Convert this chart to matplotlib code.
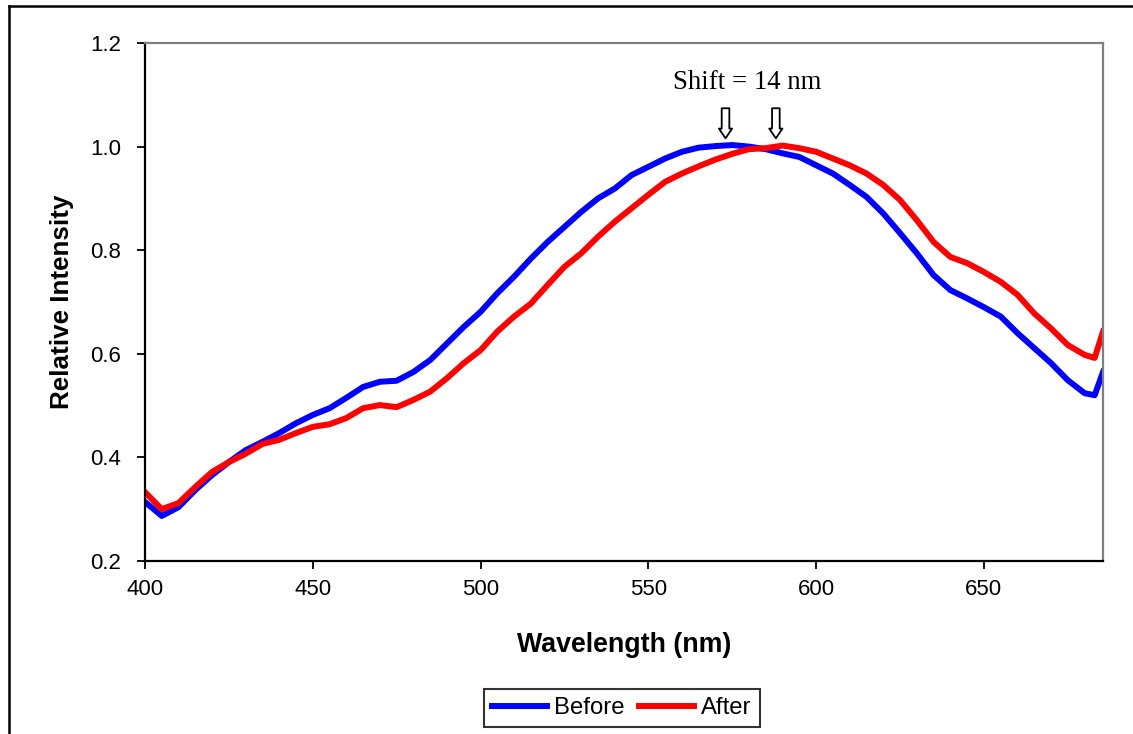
import matplotlib
matplotlib.use("Agg")
import matplotlib.pyplot as plt
from matplotlib.lines import Line2D

plt.rcParams['font.family'] = ['Liberation Sans', 'DejaVu Sans']

wavelength = [400, 405, 410, 415, 420, 425, 430, 435, 440, 445,
              450, 455, 460, 465, 470, 475, 480, 485, 490, 495,
              500, 505, 510, 515, 520, 525, 530, 535, 540, 545,
              550, 555, 560, 565, 570, 575, 580, 585, 590, 595,
              600, 605, 610, 615, 620, 625, 630, 635, 640, 645,
              650, 655, 660, 665, 670, 675, 680, 683, 685.5]

before = [0.314, 0.287, 0.304, 0.337, 0.366, 0.391, 0.414, 0.430, 0.447, 0.466,
          0.482, 0.495, 0.515, 0.536, 0.546, 0.548, 0.565, 0.588, 0.620, 0.652,
          0.681, 0.717, 0.749, 0.784, 0.816, 0.845, 0.874, 0.900, 0.919, 0.945,
          0.961, 0.977, 0.990, 0.998, 1.001, 1.003, 1.000, 0.995, 0.987, 0.980,
          0.964, 0.948, 0.926, 0.903, 0.871, 0.833, 0.794, 0.752, 0.723, 0.707,
          0.690, 0.672, 0.640, 0.611, 0.582, 0.549, 0.524, 0.520, 0.565]

after = [0.333, 0.300, 0.312, 0.343, 0.372, 0.391, 0.407, 0.426, 0.434, 0.447,
         0.459, 0.464, 0.476, 0.495, 0.501, 0.497, 0.511, 0.527, 0.553, 0.582,
         0.607, 0.643, 0.672, 0.697, 0.733, 0.768, 0.794, 0.826, 0.855, 0.881,
         0.907, 0.932, 0.948, 0.962, 0.975, 0.986, 0.995, 0.997, 1.002, 0.997,
         0.990, 0.977, 0.964, 0.948, 0.926, 0.897, 0.858, 0.816, 0.787, 0.775,
         0.758, 0.739, 0.714, 0.678, 0.649, 0.617, 0.598, 0.592, 0.643]

peaks = [573, 588]
shift_text = "Shift = 14 nm"

fig = plt.figure(figsize=(11.33, 7.34), dpi=100)
ax = fig.add_axes([145 / 1133, 1 - 561 / 734, 957.7 / 1133, 518 / 734])

ax.plot(wavelength, before, color='#0000ff', lw=4.3, label='Before', solid_joinstyle='round')
ax.plot(wavelength, after, color='#ff0000', lw=4.3, label='After', solid_joinstyle='round')

ax.set_xlim(400, 685.4)
ax.set_ylim(0.2, 1.2)
ax.set_xticks([400, 450, 500, 550, 600, 650])
ax.set_yticks([0.2, 0.4, 0.6, 0.8, 1.0, 1.2])
ax.set_yticklabels(['0.2', '0.4', '0.6', '0.8', '1.0', '1.2'])
ax.tick_params(axis='both', direction='out', length=6, width=1.3, labelsize=16)
ax.tick_params(axis='y', pad=11)
ax.tick_params(axis='x', pad=7)

for s in ['left', 'bottom']:
    ax.spines[s].set_color('black')
    ax.spines[s].set_linewidth(1.6)
for s in ['top', 'right']:
    ax.spines[s].set_color('#808080')
    ax.spines[s].set_linewidth(1.6)

ax.set_xlabel('Wavelength (nm)', fontsize=19.3, fontweight='bold', va='center')
ax.xaxis.set_label_coords(0.5, -0.162)
ax.set_ylabel('Relative Intensity', fontsize=18.7, fontweight='bold', va='center')
ax.yaxis.set_label_coords(-0.087, 0.5)

ax.text(579.4, 1.124, shift_text, family=['Liberation Serif', 'DejaVu Serif'],
        fontsize=19.3, ha='center', va='center')
for p in peaks:
    ax.annotate('', xy=(p, 1.016), xytext=(p, 1.074),
                arrowprops=dict(arrowstyle='simple,head_width=0.95,head_length=0.7,tail_width=0.55',
                                fc='white', ec='black', lw=1.3, shrinkA=0, shrinkB=0,
                                mutation_scale=10))

leg = ax.legend(loc='center', bbox_to_anchor=(622 / 1133, 1 - 708 / 734),
                bbox_transform=fig.transFigure, ncol=2, fontsize=17.2,
                frameon=True, fancybox=False, edgecolor='black',
                handlelength=2.3, handletextpad=0.3, columnspacing=0.6,
                borderpad=0.35, borderaxespad=0)
leg.get_frame().set_linewidth(1.5)

fig.add_artist(Line2D([9 / 1133, 9 / 1133], [0, 1 - 6 / 734], color='black', lw=1.8))
fig.add_artist(Line2D([9 / 1133, 1], [1 - 6 / 734, 1 - 6 / 734], color='black', lw=1.8))

fig.savefig('out.png', dpi=100)
